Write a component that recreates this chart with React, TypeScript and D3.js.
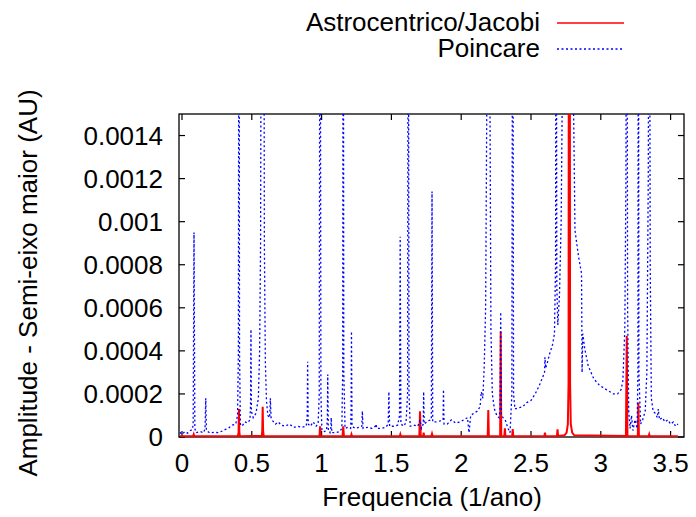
import React from "react";
import * as d3 from "d3";

// Tick values and labels
const xTicks = [0, 0.5, 1, 1.5, 2, 2.5, 3, 3.5];
const xTickLabels = ["0", "0.5", "1", "1.5", "2", "2.5", "3", "3.5"];
const yTicks = [0, 0.0002, 0.0004, 0.0006, 0.0008, 0.001, 0.0012, 0.0014];
const yTickLabels = ["0", "0.0002", "0.0004", "0.0006", "0.0008", "0.001", "0.0012", "0.0014"];

const seriesNames = ["Astrocentrico/Jacobi", "Poincare"];

// Astrocentrico/Jacobi spectrum [frequency (1/ano), amplitude (AU)]
const jacobiData: [number, number][] = [
  [-0.015, 0.000004], [0.08, 0.000004], [0.084, 0.000012], [0.088, 0.000003],
  [0.4, 0.000004], [0.405, 0.00002], [0.408, 0.00013], [0.411, 0.00002], [0.415, 0.000003],
  [0.572, 0.000005], [0.575, 0.00003], [0.578, 0.00014], [0.581, 0.00003], [0.585, 0.000003],
  [0.985, 0.000003], [0.989, 0.00005], [0.993, 0.000003],
  [1.15, 0.000003], [1.155, 0.00005], [1.16, 0.000003],
  [1.21, 0.000003], [1.214, 0.000012], [1.218, 0.000003],
  [1.56, 0.000003], [1.564, 0.000012], [1.568, 0.000003],
  [1.7, 0.000003], [1.705, 0.00012], [1.71, 0.000003],
  [1.727, 0.000003], [1.731, 0.00002], [1.735, 0.000003],
  [1.786, 0.000003], [1.791, 0.000015], [1.796, 0.000003],
  [2.19, 0.000004], [2.194, 0.000125], [2.198, 0.000004],
  [2.279, 0.000005], [2.283, 0.00049], [2.287, 0.000005],
  [2.309, 0.000003], [2.313, 0.00004], [2.317, 0.000003],
  [2.365, 0.000004], [2.369, 0.000037], [2.373, 0.000004],
  [2.596, 0.000004], [2.6, 0.00002], [2.604, 0.000004],
  [2.686, 0.000005], [2.69, 0.000036], [2.694, 0.000005],
  [2.74, 0.000008], [2.755, 0.00002], [2.764, 0.00006], [2.769, 0.00025],
  [2.772, 0.003], [2.777, 0.003], [2.78, 0.00025], [2.785, 0.00006],
  [2.795, 0.00002], [2.81, 0.000008],
  [3.18, 0.000005], [3.186, 0.00047], [3.191, 0.000005],
  [3.265, 0.000004], [3.269, 0.00016], [3.273, 0.000004],
  [3.343, 0.000003], [3.347, 0.000012], [3.351, 0.000003],
  [3.553, 0.000004],
];

// Poincare spectrum [frequency (1/ano), amplitude (AU)]
const poincareData: [number, number][] = [
  [-0.015, 0.000022], [0.0, 0.000012], [0.02, 0.000025], [0.04, 0.000018], [0.06, 0.00003],
  [0.075, 0.000035], [0.08, 0.00006], [0.086, 0.00095], [0.092, 0.00004], [0.1, 0.00002],
  [0.13, 0.000025], [0.155, 0.00002], [0.165, 0.00004], [0.17, 0.00018], [0.175, 0.00003],
  [0.2, 0.000018], [0.23, 0.000022], [0.26, 0.00002], [0.29, 0.000028], [0.31, 0.000035],
  [0.33, 0.00004], [0.36, 0.000055], [0.385, 0.00006], [0.398, 0.0001], [0.404, 0.0004],
  [0.408, 0.003], [0.412, 0.0004], [0.418, 0.00006], [0.43, 0.00005], [0.45, 0.00007],
  [0.47, 0.000065], [0.487, 0.00008], [0.491, 0.00015], [0.494, 0.0005], [0.497, 0.00012],
  [0.51, 0.00009], [0.53, 0.00011], [0.547, 0.00018], [0.556, 0.0004], [0.563, 0.0009],
  [0.57, 0.003], [0.585, 0.003], [0.59, 0.0009], [0.597, 0.00035], [0.605, 0.00017],
  [0.615, 0.0001], [0.628, 0.00009], [0.633, 0.00018], [0.638, 0.00009], [0.65, 0.000075],
  [0.67, 0.00006], [0.69, 0.00007], [0.71, 0.000055], [0.74, 0.00005], [0.77, 0.00006],
  [0.8, 0.000045], [0.83, 0.00005], [0.86, 0.000045], [0.89, 0.00005], [0.897, 0.0001],
  [0.9, 0.00035], [0.904, 0.00006], [0.92, 0.00005], [0.94, 0.00007], [0.96, 0.00005],
  [0.975, 0.00006], [0.983, 0.0002], [0.989, 0.003], [0.995, 0.0002], [1.002, 0.00003],
  [1.02, 0.000025], [1.035, 0.00003], [1.041, 0.00008], [1.044, 0.00029], [1.048, 0.00003],
  [1.06, 0.00002], [1.066, 0.00004], [1.069, 0.00009], [1.073, 0.00002], [1.1, 0.00002],
  [1.13, 0.000025], [1.145, 0.00004], [1.151, 0.0003], [1.155, 0.003], [1.159, 0.0003],
  [1.168, 0.00004], [1.19, 0.000045], [1.208, 0.00004], [1.211, 0.00012], [1.214, 0.00049],
  [1.218, 0.00005], [1.24, 0.00004], [1.27, 0.000045], [1.288, 0.00005], [1.292, 0.00012],
  [1.297, 0.00004], [1.33, 0.000045], [1.36, 0.00004], [1.385, 0.00005], [1.39, 0.00006],
  [1.395, 0.00004], [1.43, 0.00004], [1.46, 0.000045], [1.477, 0.00006], [1.482, 0.00021],
  [1.487, 0.00005], [1.52, 0.00005], [1.545, 0.000055], [1.558, 0.0001], [1.563, 0.00093],
  [1.568, 0.00006], [1.59, 0.00005], [1.605, 0.00007], [1.616, 0.0002], [1.621, 0.003],
  [1.626, 0.0002], [1.635, 0.00005], [1.66, 0.000055], [1.69, 0.00005], [1.705, 0.00008],
  [1.715, 0.00004], [1.728, 0.00006], [1.731, 0.00021], [1.735, 0.00006], [1.76, 0.000075],
  [1.786, 0.00008], [1.791, 0.00114], [1.796, 0.00007], [1.82, 0.00007], [1.85, 0.000075],
  [1.87, 0.00008], [1.873, 0.00022], [1.877, 0.00006], [1.9, 0.00006], [1.93, 0.00008],
  [1.96, 0.000065], [1.99, 0.00007], [2.02, 0.00008], [2.045, 0.00009], [2.056, 0.00002],
  [2.068, 0.0001], [2.09, 0.00011], [2.115, 0.00012], [2.135, 0.00014], [2.144, 0.00021],
  [2.155, 0.00018], [2.165, 0.00033], [2.175, 0.0006], [2.183, 0.0015], [2.19, 0.003],
  [2.2, 0.003], [2.207, 0.0014], [2.213, 0.0005], [2.223, 0.0002], [2.238, 0.00013],
  [2.255, 0.0001], [2.27, 0.00009], [2.278, 0.00012], [2.283, 0.00058], [2.288, 0.0001],
  [2.3, 0.00009], [2.315, 0.00008], [2.335, 0.00004], [2.35, 0.00002], [2.363, 0.0002],
  [2.369, 0.003], [2.375, 0.0002], [2.385, 0.00013], [2.41, 0.000135], [2.44, 0.00014],
  [2.47, 0.00016], [2.5, 0.00017], [2.53, 0.0002], [2.56, 0.00024], [2.585, 0.00028],
  [2.597, 0.0003], [2.6, 0.00037], [2.605, 0.00032], [2.615, 0.00034], [2.635, 0.00039],
  [2.655, 0.00043], [2.668, 0.00048], [2.676, 0.0008], [2.68, 0.003], [2.685, 0.0007],
  [2.692, 0.00052], [2.704, 0.00066], [2.716, 0.001], [2.727, 0.0018], [2.74, 0.003],
  [2.79, 0.003], [2.802, 0.0017], [2.815, 0.00096], [2.84, 0.00084], [2.862, 0.00076],
  [2.866, 0.0003], [2.871, 0.00048], [2.885, 0.00041], [2.91, 0.00033], [2.95, 0.00027],
  [2.99, 0.00024], [3.04, 0.00022], [3.09, 0.0002], [3.12, 0.0002], [3.145, 0.00022],
  [3.158, 0.00026], [3.172, 0.0005], [3.18, 0.0012], [3.186, 0.003], [3.192, 0.0006],
  [3.2, 0.00012], [3.21, 0.00004], [3.22, 0.0001], [3.23, 0.00003], [3.245, 0.00008],
  [3.26, 0.00004], [3.266, 0.0003], [3.269, 0.003], [3.273, 0.0003], [3.285, 0.00006],
  [3.3, 0.00008], [3.318, 0.00012], [3.33, 0.0003], [3.34, 0.0012], [3.347, 0.003],
  [3.354, 0.0008], [3.362, 0.00018], [3.375, 0.00012], [3.39, 0.00011], [3.405, 0.00009],
  [3.412, 0.00013], [3.42, 0.00008], [3.44, 0.00009], [3.46, 0.00007], [3.48, 0.00008],
  [3.5, 0.00006], [3.52, 0.00007], [3.535, 0.00005], [3.553, 0.00006],
];

const W = 696;
const H = 517;
const M = { left: 179, right: 684, top: 114, bottom: 437 };
const FONT = "'Liberation Sans', Arial, Helvetica, sans-serif";

export default function App() {
  const x = d3.scaleLinear().domain([-0.0215, 3.596]).range([M.left, M.right]);
  const y = d3.scaleLinear().domain([0, 0.0015]).range([M.bottom, M.top]);
  const line = d3
    .line<[number, number]>()
    .x((d) => x(d[0]))
    .y((d) => y(d[1]));
  const tick = 6;

  return (
    <svg
      width={W}
      height={H}
      viewBox={`0 0 ${W} ${H}`}
      style={{ position: "absolute", left: 0, top: 0, background: "#fff" }}
      fontFamily={FONT}
    >
      <defs>
        <clipPath id="plotclip">
          <rect x={M.left} y={M.top} width={M.right - M.left} height={M.bottom - M.top} />
        </clipPath>
      </defs>
      <rect x={0} y={0} width={W} height={H} fill="#fff" />

      {/* border */}
      <rect
        x={M.left}
        y={M.top}
        width={M.right - M.left}
        height={M.bottom - M.top}
        fill="none"
        stroke="#000"
        strokeWidth={1.3}
      />

      {/* ticks */}
      {yTicks.map((t, i) => (
        <g key={"yt" + i}>
          <line x1={M.left} x2={M.left + tick} y1={y(t)} y2={y(t)} stroke="#000" strokeWidth={1.2} />
          <line x1={M.right} x2={M.right - tick} y1={y(t)} y2={y(t)} stroke="#000" strokeWidth={1.2} />
          <text x={163} y={y(t)} dy="0.36em" textAnchor="end" fontSize={26} fill="#000">
            {yTickLabels[i]}
          </text>
        </g>
      ))}
      {xTicks.map((t, i) => (
        <g key={"xt" + i}>
          <line x1={x(t)} x2={x(t)} y1={M.bottom} y2={M.bottom - tick} stroke="#000" strokeWidth={1.2} />
          <line x1={x(t)} x2={x(t)} y1={M.top} y2={M.top + tick} stroke="#000" strokeWidth={1.2} />
          <text x={x(t)} y={472} textAnchor="middle" fontSize={26} fill="#000">
            {xTickLabels[i]}
          </text>
        </g>
      ))}

      {/* data */}
      <g clipPath="url(#plotclip)">
        <path d={line(jacobiData) || ""} fill="none" stroke="#ff0000" strokeWidth={2} />
        <path
          d={line(poincareData) || ""}
          fill="none"
          stroke="#0000ff"
          strokeWidth={1.3}
          strokeDasharray="2,2.5"
        />
      </g>

      {/* axis labels */}
      <text x={432} y={506} textAnchor="middle" fontSize={26} fill="#000">
        Frequencia (1/ano)
      </text>
      <text
        transform={`translate(37, 283) rotate(-90)`}
        textAnchor="middle"
        fontSize={26}
        fill="#000"
      >
        Amplitude - Semi-eixo maior (AU)
      </text>

      {/* legend */}
      <text x={540} y={31} textAnchor="end" fontSize={26} fill="#000">
        {seriesNames[0]}
      </text>
      <line x1={557} x2={624} y1={23} y2={23} stroke="#ff0000" strokeWidth={1.5} />
      <text x={540} y={57} textAnchor="end" fontSize={26} fill="#000">
        {seriesNames[1]}
      </text>
      <line x1={557} x2={624} y1={49} y2={49} stroke="#0000ff" strokeWidth={1.3} strokeDasharray="2,2.5" />
    </svg>
  );
}
